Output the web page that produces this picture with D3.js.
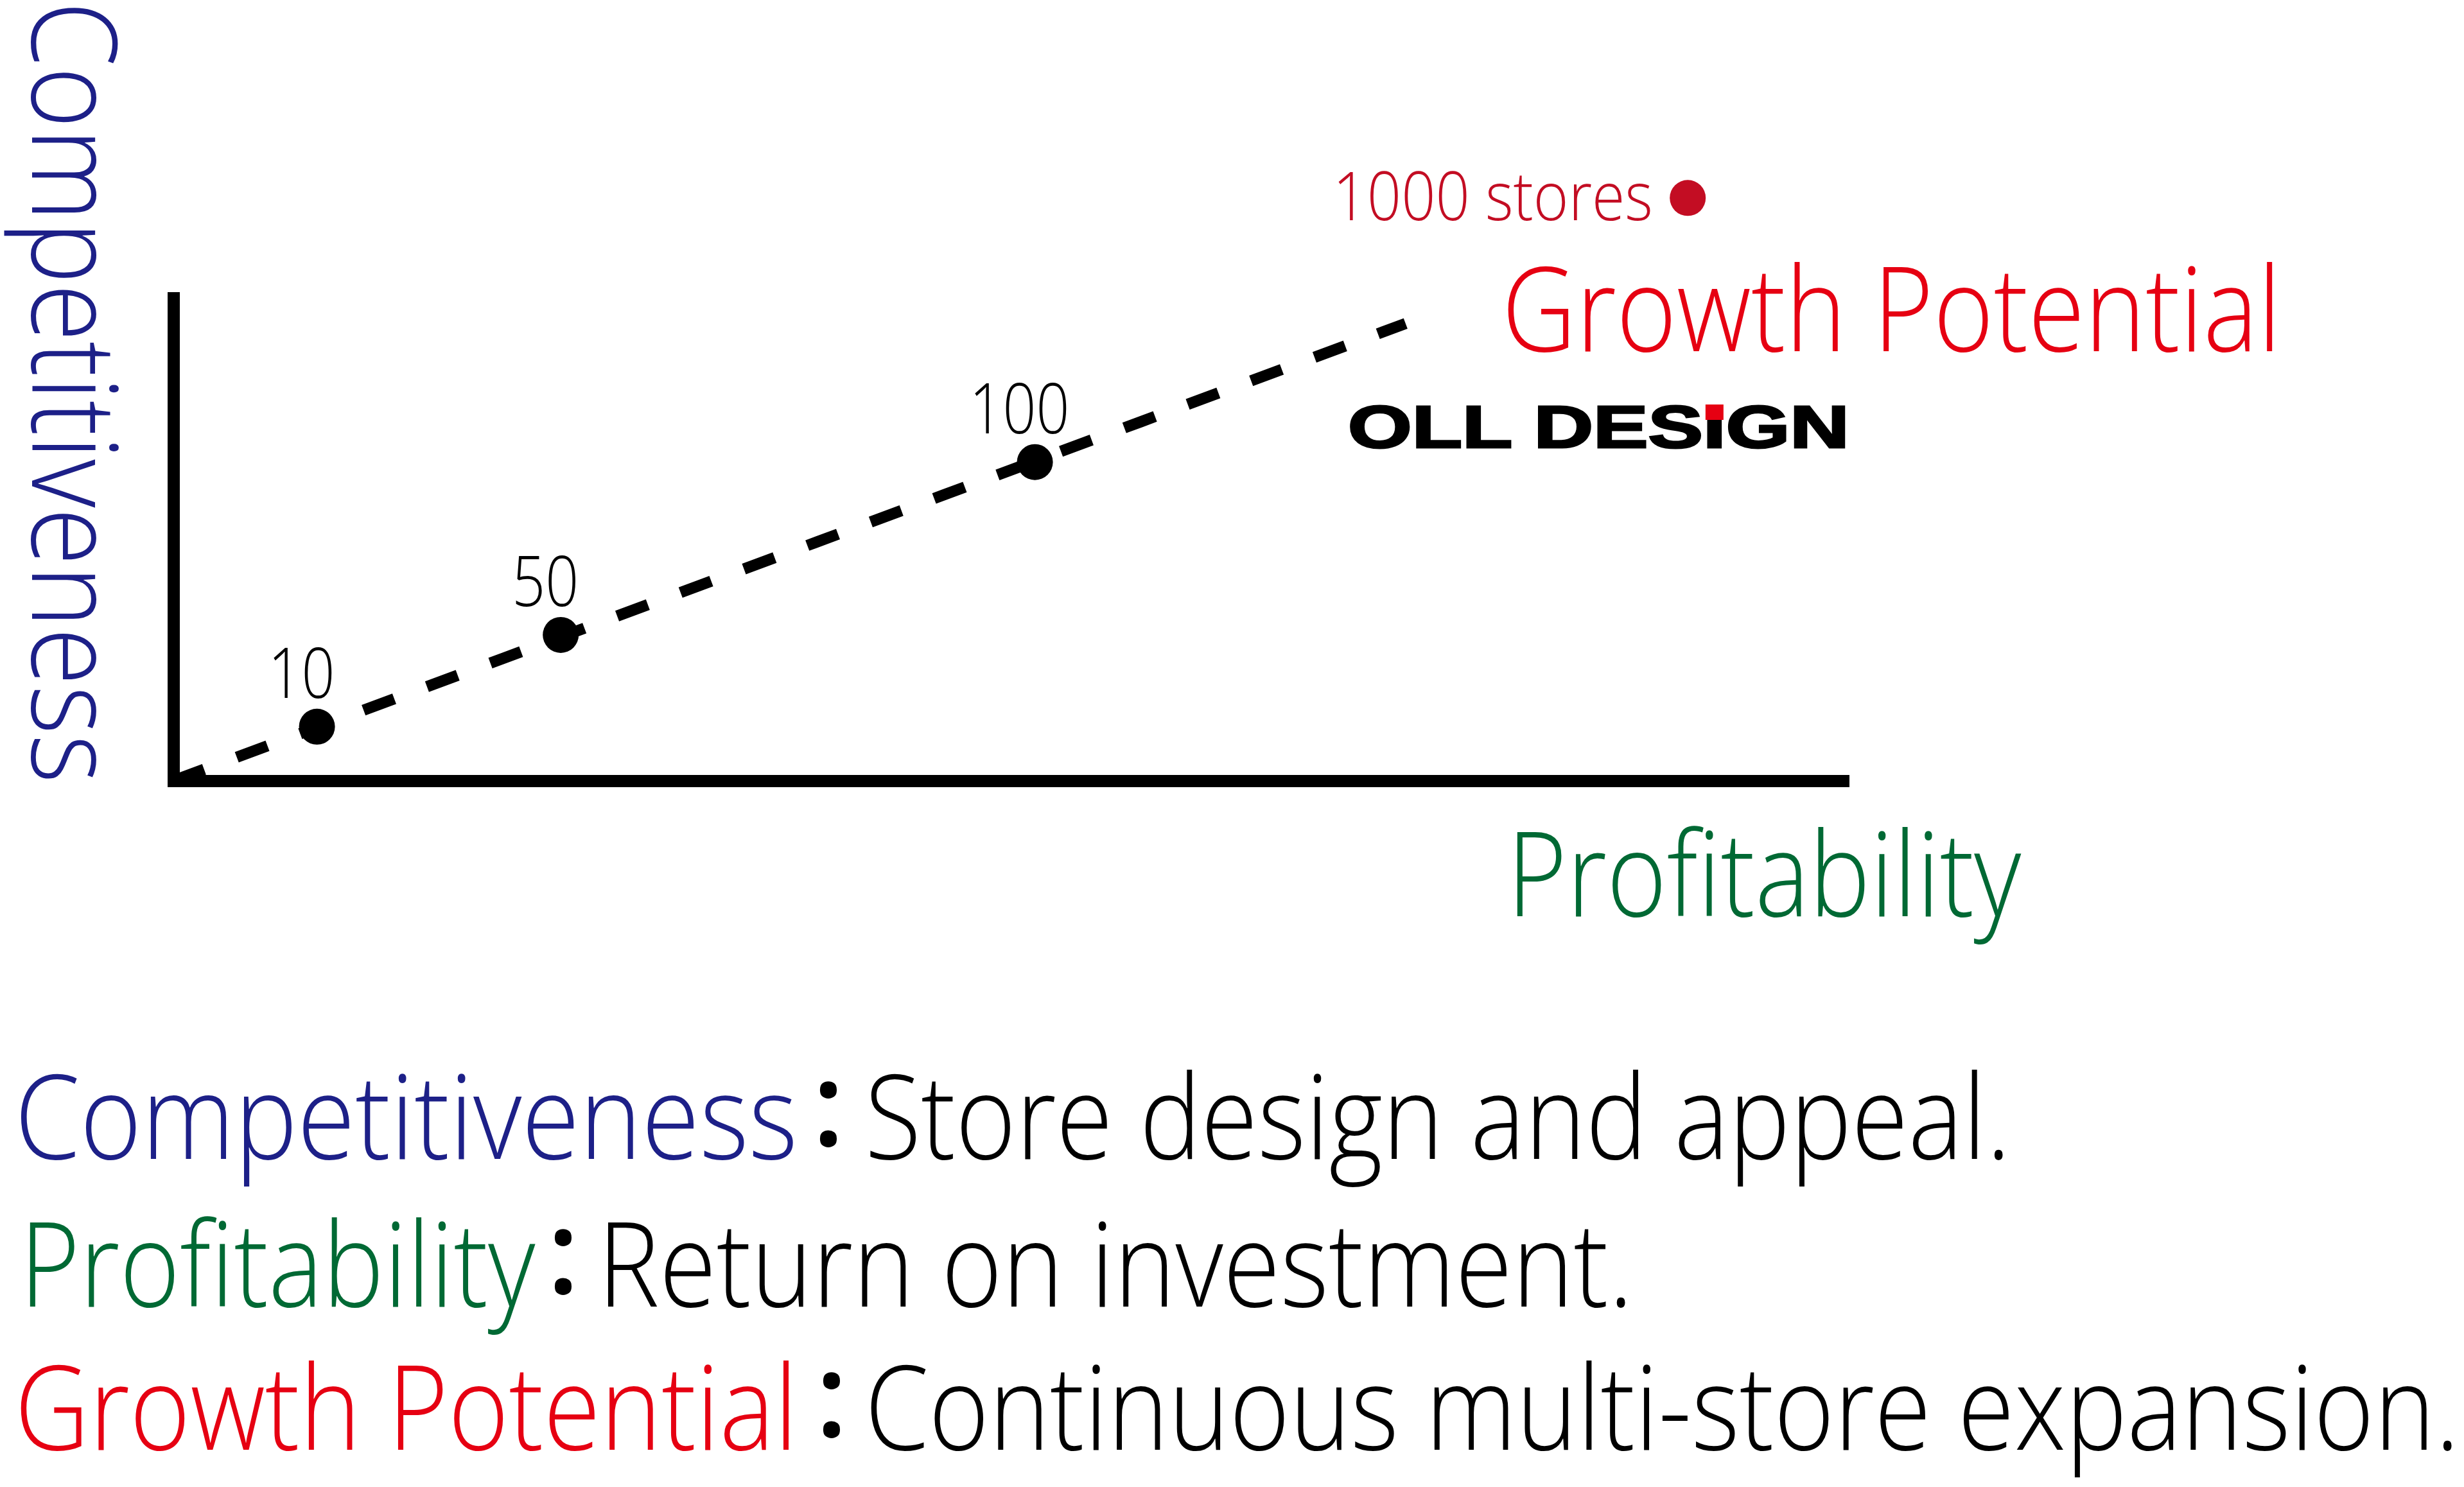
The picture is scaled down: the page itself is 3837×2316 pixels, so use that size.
<!DOCTYPE html>
<html>
<head>
<meta charset="utf-8">
<script src="https://cdn.jsdelivr.net/npm/d3@7"></script>
<style>
  html, body { margin: 0; padding: 0; background: #ffffff; }
  svg { display: block; }
</style>
</head>
<body>
<div id="chart"></div>
<script>
// ---------------- data ----------------
const axisTitles = ["Competitiveness", "Profitability", "Growth Potential"];
const storeCounts = [10, 50, 100];
const profitability = [8.6, 23.2, 51.6];      // x value of each milestone
const competitiveness = [11.2, 30.2, 66.0];   // y value of each milestone
const trendProfit = [0, 73.8];
const trendCompet = [0, 94.7];
const goalStores = 1000;
const goalLabel = "1000 stores";
const goalProfit = 90.7;
const goalCompet = 120.7;
const brandName = "OLL DESIGN";
const definitions = ["Store design and appeal.", "Return on investment.", "Continuous multi-store expansion."];

// ---------------- styles ----------------
const BLUE = "#1d2088", GREEN = "#006934", RED = "#e60012", DARKRED = "#c30d23";
const titleColors = [BLUE, GREEN, RED];

const W = 3837, H = 2316;
const svg = d3.select("#chart").append("svg")
  .attr("width", W).attr("height", H)
  .attr("viewBox", `0 0 ${W} ${H}`)
  .style("font-family", "'Open Sans', 'Noto Sans', sans-serif")
  .style("font-weight", 300);

svg.append("rect").attr("width", W).attr("height", H).attr("fill", "#fff");

const x = d3.scaleLinear().domain([0, 100]).range([270, 2870]);
const y = d3.scaleLinear().domain([0, 100]).range([1216, 464]);

// text squeezed horizontally to span ink range x0..x1
function label(parent, str, x0, x1, base, size, color) {
  const pad = 0.035 * size;
  const t = parent.append("text")
    .attr("font-size", size).attr("fill", color)
    .text(str);
  const nat = t.node().getComputedTextLength();
  const k = (x1 - x0 + 2 * pad) / nat;
  t.attr("transform", `translate(${x0 - pad},${base}) scale(${k},1)`);
  return t;
}

// ---------------- axes ----------------
const styleDomain = g => {
  g.selectAll(".tick").remove();
  g.select(".domain").attr("stroke", "#000").attr("stroke-width", 19).attr("stroke-linecap", "square");
};
svg.append("g").attr("transform", `translate(0,${y(0)})`)
  .call(d3.axisBottom(x).tickValues([]).tickSizeOuter(0)).call(styleDomain);
svg.append("g").attr("transform", `translate(${x(0)},0)`)
  .call(d3.axisLeft(y).tickValues([]).tickSizeOuter(0)).call(styleDomain);

// ---------------- trend line ----------------
const line = d3.line().x(d => x(d[0])).y(d => y(d[1]));
svg.append("path")
  .datum(d3.zip(trendProfit, trendCompet))
  .attr("d", line)
  .attr("fill", "none").attr("stroke", "#000")
  .attr("stroke-width", 17.5)
  .attr("stroke-dasharray", "51 54.3")
  .attr("stroke-linecap", "butt");

// ---------------- milestones ----------------
const pts = storeCounts.map((s, i) => ({ s, px: profitability[i], py: competitiveness[i] }));
svg.append("g").selectAll("circle").data(pts).join("circle")
  .attr("cx", d => x(d.px)).attr("cy", d => y(d.py)).attr("r", 28).attr("fill", "#000");
const numG = svg.append("g");
pts.forEach(d => {
  const t = numG.append("text")
    .attr("text-anchor", "middle")
    .attr("font-size", 108).attr("fill", "#000")
    .text(d.s);
  const nat = t.node().getComputedTextLength();
  const k = (52 * String(d.s).length) / nat;
  t.attr("transform", `translate(${x(d.px) - 24},${y(d.py) - 45}) scale(${k},1)`);
});

// goal point
const gx = x(goalProfit), gy = y(goalCompet);
svg.append("circle").attr("cx", gx).attr("cy", gy).attr("r", 28).attr("fill", DARKRED);
label(svg, goalLabel, gx - 549, gx - 58, gy + 35, 106, DARKRED);

// ---------------- chart titles ----------------
// vertical axis title (reads top to bottom)
const vt = svg.append("g").attr("transform", "translate(50,2) rotate(90)");
{
  const t = vt.append("text").attr("font-size", 185).attr("fill", BLUE).text(axisTitles[0]);
  const k = 1218 / t.node().getComputedTextLength();
  t.attr("transform", `scale(${k},1)`);
}

label(svg, axisTitles[1], 2353, 3141, 1427, 182, GREEN);
label(svg, axisTitles[2], 2345, 3546, 547, 182, RED);

// brand logo
{
  const bg = svg.append("g");
  const brand = bg.append("text")
    .attr("font-family", "'Liberation Sans', Arial, sans-serif")
    .attr("font-weight", 700)
    .attr("font-size", 92)
    .attr("fill", "#000").attr("stroke", "#000").attr("stroke-width", 3)
    .text(brandName);
  const k = 781 / brand.node().getComputedTextLength();
  bg.attr("transform", `translate(2099,697) scale(${k},1)`);
  try {
    const idx = brandName.indexOf("I");
    const ext = brand.node().getExtentOfChar(idx);
    const cx = ext.x + ext.width / 2;
    bg.append("rect")
      .attr("x", cx - 14 / k).attr("y", -67)
      .attr("width", 28 / k).attr("height", 24)
      .attr("fill", RED);
  } catch (e) {}
}

// ---------------- definitions ----------------
const lines = [
  { base: 1805, t0: 29, t1: 1236, colon: 1290, d0: 1353, d1: 3125 },
  { base: 2035, t0: 37, t1: 827, colon: 877, d0: 937, d1: 2537 },
  { base: 2258, t0: 29, t1: 1236, colon: 1295, d0: 1353, d1: 3824 }
];
const defs = svg.append("g");
lines.forEach((L, i) => {
  label(defs, axisTitles[i], L.t0, L.t1, L.base, 182, titleColors[i]);
  defs.append("text")
    .attr("x", L.colon).attr("y", L.base - 20)
    .attr("text-anchor", "middle")
    .attr("font-weight", 600)
    .attr("font-size", 182).attr("fill", "#000")
    .text(":");
  label(defs, definitions[i], L.d0, L.d1, L.base, 182, "#000");
});
</script>
</body>
</html>
